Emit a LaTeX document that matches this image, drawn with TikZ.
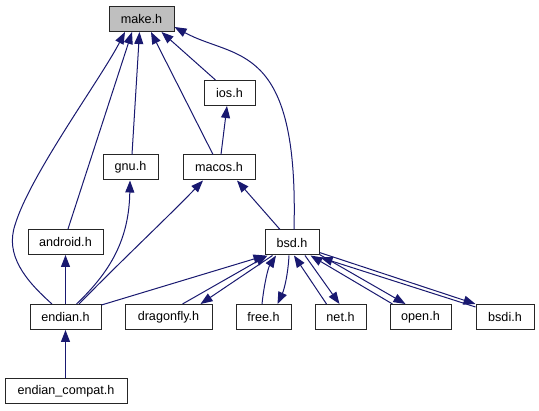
\documentclass[tikz,border=0pt]{standalone}
\usepackage{fontspec}
\setmainfont{Liberation Sans}
\usetikzlibrary{arrows.meta,calc}
\definecolor{edgeblue}{HTML}{191970}
\definecolor{rootgray}{HTML}{BFBFBF}
\tikzset{
  hdr/.style={draw=black!85, line width=1pt, fill=white, rectangle, inner sep=0pt,
    minimum height=25pt, font=\fontsize{12.6}{14}\selectfont},
  inc/.style={draw=edgeblue, line width=1pt,
    -{Triangle[length=12pt,width=9pt]}, fill=none},
}
\begin{document}
\begin{tikzpicture}[x=1pt,y=-1pt]
\useasboundingbox (0,0) rectangle (539,411);
\fill[white] (0,0) rectangle (539,411);
% nodes
\node[hdr, fill=rootgray, minimum width=65pt] (make) at (141.5,19) {make.h};
\node[hdr, minimum width=51pt] (ios) at (229.5,93) {ios.h};
\node[hdr, minimum width=55pt] (gnu) at (130.5,167.5) {gnu.h};
\node[hdr, minimum width=72pt] (macos) at (219,167.5) {macos.h};
\node[hdr, minimum width=75pt] (android) at (65.5,242) {android.h};
\node[hdr, minimum width=54pt] (bsd) at (292,242.5) {bsd.h};
\node[hdr, minimum width=71pt] (endian) at (65.5,317) {endian.h};
\node[hdr, minimum width=87pt] (dragonfly) at (168.5,317) {dragonfly.h};
\node[hdr, minimum width=55pt] (free) at (263.5,317) {free.h};
\node[hdr, minimum width=51pt] (net) at (340.5,317) {net.h};
\node[hdr, minimum width=61pt] (open) at (420.5,317) {open.h};
\node[hdr, minimum width=58pt] (bsdi) at (505,317) {bsdi.h};
\node[hdr, minimum width=122pt] (compat) at (66,391.5) {endian\_compat.h};
% edges to make.h
\draw[inc] ($(endian.north)+(-13.5,0)$) .. controls (25,280) and (5,255) .. (15,225)
  .. controls (30,175) and (100,80) .. ($(make.south)+(-16.5,0)$);
\draw[inc] ($(android.north)+(2.5,0)$) -- ($(make.south)+(-9.5,0)$);
\draw[inc] ($(gnu.north)+(1.5,0)$) -- ($(make.south)+(-2,0)$);
\draw[inc] ($(macos.north)+(-6,0)$) -- ($(make.south)+(9.5,0)$);
\draw[inc] ($(ios.north)+(-14,0)$) -- ($(make.south)+(20,0)$);
\draw[inc] ($(bsd.north)+(2,0)$) .. controls (299,40) and (235,60) .. ($(make.east)+(0,8)$);
% other upper edges
\draw[inc] ($(macos.north)+(2,0)$) -- ($(ios.south)+(-2.5,0)$);
\draw[inc] ($(bsd.north)+(-12,0)$) -- ($(macos.south)+(18,0)$);
\draw[inc] ($(endian.north)+(13.5,0)$) .. controls (120,262) and (170,215) .. ($(macos.south)+(-16,0)$);
\draw[inc] ($(endian.north)+(11,0)$) .. controls (110,272) and (129,240) .. ($(gnu.south)+(-0.5,0)$);
\draw[inc] (endian.north) -- (android.south);
\draw[inc] (endian.south |- compat.north) -- (endian.south);
\draw[inc] ($(endian.north east)+(0,1)$) -- ($(bsd.south west)+(1,0)$);
% bsd.h family
\draw[inc] ($(dragonfly.north)+(14,0)$) -- ($(bsd.south west)+(3,0)$);
\draw[inc] ($(bsd.south west)+(8,0)$) -- ($(dragonfly.north)+(32,0)$);
\draw[inc] ($(free.north)+(-1.5,0)$) .. controls (264,285) and (268,268) .. ($(bsd.south)+(-16,0)$);
\draw[inc] ($(bsd.south)+(-3,0)$) .. controls (288,275) and (284,290) .. ($(free.north)+(14,0)$);
\draw[inc] ($(net.north)+(-14,0)$) -- ($(bsd.south)+(2,0)$);
\draw[inc] ($(bsd.south)+(13,0)$) -- ($(net.north)+(-1,0)$);
\draw[inc] ($(open.north)+(-28,0)$) -- ($(bsd.south east)+(-9,0)$);
\draw[inc] ($(bsd.south east)+(0,-1)$) -- ($(open.north)+(-15,0)$);
\draw[inc] ($(bsdi.north west)+(0,3)$) -- ($(bsd.south east)+(1,2)$);
\draw[inc] ($(bsd.east)+(0,10)$) -- (bsdi.north west);
\end{tikzpicture}
\end{document}
